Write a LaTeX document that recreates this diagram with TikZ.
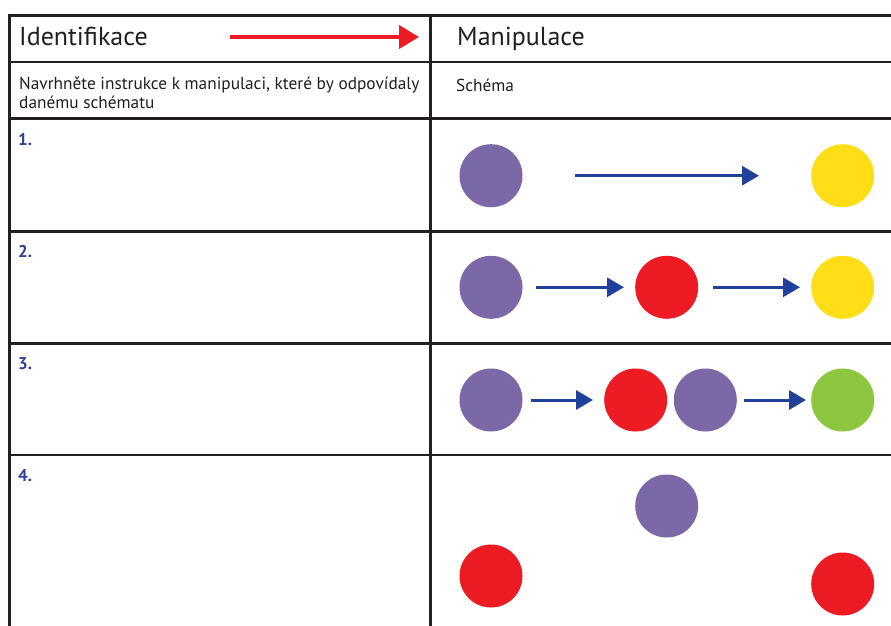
\documentclass[tikz,border=0pt]{standalone}
\usepackage{fontspec}
\setmainfont{PT Sans}
\usetikzlibrary{arrows.meta}

\definecolor{gridline}{HTML}{231F20}
\definecolor{ballpurple}{HTML}{7B68A6}
\definecolor{ballred}{HTML}{ED1C24}
\definecolor{ballyellow}{HTML}{FFDE17}
\definecolor{ballgreen}{HTML}{8DC63F}
\definecolor{arrowblue}{HTML}{21409A}
\definecolor{numblue}{HTML}{2B3F96}

\tikzset{
  ball/.style={circle, minimum size=63pt, inner sep=0pt, draw=none, fill=#1},
  flow/.style={draw=arrowblue, line width=3pt,
    -{Triangle[length=17pt,width=19pt]}},
  rule/.style={draw=gridline, line width=2.6pt},
  heading/.style={anchor=base west, inner sep=0pt, font=\fontsize{26}{30}\selectfont, text=gridline},
  bodytext/.style={anchor=base west, inner sep=0pt, font=\fontsize{17.3}{19}\selectfont, text=gridline},
  tasknum/.style={anchor=base west, inner sep=0pt, font=\bfseries\fontsize{17}{19}\selectfont, text=numblue}
}

\begin{document}
\begin{tikzpicture}[x=1pt,y=-1pt]
\useasboundingbox (0,0) rectangle (891,626);
\fill[white] (0,0) rectangle (891,626);
\clip (0,0) rectangle (891,626);

% table grid
\foreach \yy in {15.5,62,118.5,231.5,343.5,455}
  \draw[rule] (8.2,\yy) -- (895,\yy);
\draw[rule] (9.5,14.2) -- (9.5,630);
\draw[rule] (430.5,14.2) -- (430.5,630);

% header row
\node[heading] (ident) at (19,46) {Identifikace};
\node[heading] (manip) at (457,46) {Manipulace};
\coordinate (redstart) at (230,37);
\coordinate (redend) at (419,37);
\draw[draw=ballred, line width=4pt, -{Triangle[length=20pt,width=23pt]}] (redstart) -- (redend);

% instruction row
\node[bodytext] (instr1) at (19,89) {Navrhněte instrukce k manipulaci, které by odpovídaly};
\node[bodytext] (instr2) at (19,108) {danému schématu};
\node[bodytext] (schema) at (456,91) {Schéma};

% task numbers
\node[tasknum] (n1) at (18,145.5) {1.};
\node[tasknum] (n2) at (18,257) {2.};
\node[tasknum] (n3) at (18,369) {3.};
\node[tasknum] (n4) at (18,481) {4.};

% task 1
\node[ball=ballpurple] (a1) at (491,175.7) {};
\node[ball=ballyellow] (a2) at (842.7,175.7) {};
\draw[flow, shorten <=52.5pt, shorten >=52pt] (a1) -- (a2);

% task 2
\node[ball=ballpurple] (b1) at (491,287.3) {};
\node[ball=ballred] (b2) at (666.7,287.3) {};
\node[ball=ballyellow] (b3) at (842.7,287.3) {};
\draw[flow, shorten <=13.5pt, shorten >=11pt] (b1) -- (b2);
\draw[flow, shorten <=14.5pt, shorten >=11pt] (b2) -- (b3);

% task 3
\node[ball=ballpurple] (c1) at (491,400) {};
\node[ball=ballred] (c2) at (635.7,400) {};
\node[ball=ballpurple] (c3) at (705.3,400) {};
\node[ball=ballgreen] (c4) at (842.7,400) {};
\draw[flow, shorten <=8pt, shorten >=11pt] (c1) -- (c2);
\draw[flow, shorten <=6.5pt, shorten >=5pt] (c3) -- (c4);

% task 4
\node[ball=ballpurple] (d1) at (666.7,506) {};
\node[ball=ballred] (d2) at (491,576) {};
\node[ball=ballred] (d3) at (842.7,584) {};
\end{tikzpicture}
\end{document}
